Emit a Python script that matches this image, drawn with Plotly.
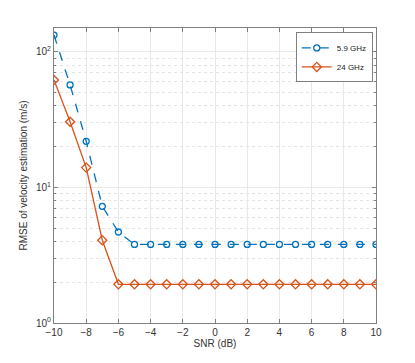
import plotly.graph_objects as go

snr = list(range(-10, 11))
rmse_59 = [133, 57, 21.9, 7.25, 4.69] + [3.8] * 16
rmse_24 = [62, 30.5, 14, 4.08] + [1.93] * 17
xticks = list(range(-10, 11, 2))
yticks = [1, 10, 100]
yticktext = ["10<sup>0</sup>", "10<sup>1</sup>", "10<sup>2</sup>"]
minor_y = [m * d for d in (1, 10, 100) for m in range(2, 10)]

FONT = "Liberation Sans, Arial"

fig = go.Figure()
fig.add_trace(go.Scatter(x=snr, y=rmse_59, mode="lines+markers", name="5.9 GHz",
                         line=dict(color="#0072BD", width=1.3, dash="dash"),
                         marker=dict(symbol="circle-open", size=6, color="#0072BD", line=dict(width=1.3))))
fig.add_trace(go.Scatter(x=snr, y=rmse_24, mode="lines+markers", name="24 GHz",
                         line=dict(color="#D95319", width=1.3),
                         marker=dict(symbol="diamond-open", size=7, color="#D95319", line=dict(width=1.3))))

axis_common = dict(showline=True, linecolor="#808080", linewidth=1, mirror="ticks",
                   ticks="inside", ticklen=4, tickcolor="#808080",
                   tickfont=dict(family=FONT, size=10, color="#333"),
                   gridcolor="#e8e8e8", gridwidth=1, zeroline=False)

fig.update_xaxes(range=[-10, 10], tickvals=xticks,
                 title=dict(text="SNR (dB)", font=dict(family=FONT, size=10, color="#333"), standoff=1),
                 **axis_common)
fig.update_yaxes(type="log", range=[0, 2.176], tickvals=yticks, ticktext=yticktext,
                 title=dict(text="RMSE of velocity estimation (m/s)", font=dict(family=FONT, size=10, color="#333"), standoff=6),
                 minor=dict(tickvals=minor_y, showgrid=True, griddash="dot", gridcolor="#e4e4e4", gridwidth=1,
                            ticks="inside", ticklen=2, tickcolor="#808080"),
                 **axis_common)

fig.update_layout(width=407, height=355, margin=dict(l=46, r=39, t=20, b=40),
                  paper_bgcolor="white", plot_bgcolor="white", showlegend=True,
                  legend=dict(x=0.99, y=0.985, xanchor="right", yanchor="top",
                              bgcolor="white", bordercolor="#808080", borderwidth=1,
                              font=dict(family=FONT, size=8, color="#222"),
                              tracegroupgap=0, itemwidth=30))
fig.write_html("out.html")
